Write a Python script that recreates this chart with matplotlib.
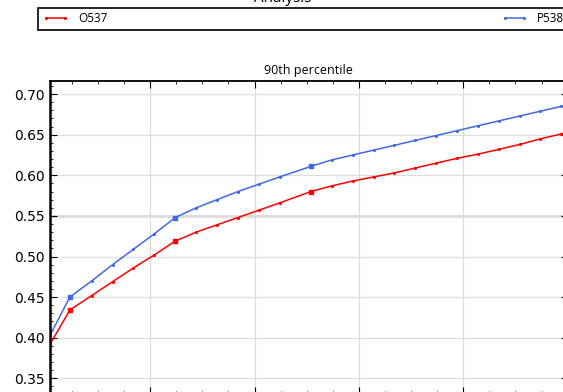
import matplotlib
matplotlib.use('Agg')
import matplotlib.pyplot as plt
from matplotlib.ticker import MultipleLocator

# data (x in plot units, one major tick = 1)
x = [0.04, 0.23, 0.44, 0.64, 0.84, 1.04, 1.24, 1.44, 1.64, 1.84, 2.04, 2.24, 2.54,
     2.74, 2.94, 3.14, 3.34, 3.54, 3.74, 3.94, 4.14, 4.34, 4.54, 4.74, 4.94, 5.0]
o537 = [0.392, 0.434, 0.452, 0.469, 0.486, 0.502, 0.519, 0.530, 0.539,
        0.548, 0.557, 0.566, 0.580, 0.587, 0.593, 0.598, 0.603, 0.609,
        0.615, 0.621, 0.626, 0.632, 0.638, 0.645, 0.651, 0.653]
p538 = [0.403, 0.450, 0.470, 0.490, 0.509, 0.528, 0.548, 0.560, 0.570,
        0.580, 0.589, 0.598, 0.611, 0.619, 0.625, 0.631, 0.637, 0.643,
        0.649, 0.655, 0.661, 0.667, 0.673, 0.679, 0.685, 0.687]
highlight = [1, 6, 12]
labels = ["O537", "P538"]
ref_level = 0.55

fig = plt.figure(figsize=(5.63, 3.92), dpi=100)
W, H = 563.0, 392.0
# axes deliberately runs past the bottom edge, as in the reference crop
ax = fig.add_axes([50 / W, 1 - 394 / H, (567.6 - 50) / W, (394 - 80.5) / H])

for ys, col, lab in [(o537, "#ff0000", labels[0]), (p538, "#4169e1", labels[1])]:
    ax.plot(x, ys, color=col, lw=1.1, marker='.', ms=2.5, label=lab)
    ax.plot([x[i] for i in highlight], [ys[i] for i in highlight],
            ls='none', marker='s', ms=3, color=col)

ax.axhline(ref_level, color='#d4d4d4', lw=1.8, zorder=0.5)
ax.set_xlim(0.04, 5.0)
ax.set_ylim(0.3307, 0.7168)
ax.xaxis.set_major_locator(MultipleLocator(1))
ax.xaxis.set_minor_locator(MultipleLocator(0.25))
ax.yaxis.set_major_locator(MultipleLocator(0.05))
ax.yaxis.set_minor_locator(MultipleLocator(0.01))
ax.tick_params(which='both', direction='in', top=True, right=True, labelbottom=False)
ax.tick_params(which='major', length=5, labelsize=10)
ax.tick_params(which='minor', length=2.5)
ax.grid(True, which='major', color='#dddddd', lw=0.9)
for s in ax.spines.values():
    s.set_linewidth(1.3)
ax.spines['left'].set_linewidth(1.8)
ax.set_title("90th percentile", fontsize=9, family=['Open Sans', 'DejaVu Sans'], pad=5)

fig.text(283 / W, 1 + 1.5 / H, "Analysis", ha='center', va='center', fontsize=11,
         family=['Open Sans', 'DejaVu Sans'])

leg = fig.legend(loc='lower left', bbox_to_anchor=(38 / W, 1 - 30 / H, 531 / W, 21 / H),
                 ncol=2, mode='expand', fancybox=False, framealpha=1, edgecolor='black',
                 borderaxespad=0, numpoints=2, handlelength=2.2,
                 prop={'family': ['Open Sans', 'DejaVu Sans'], 'size': 8.5})
leg.get_frame().set_linewidth(1.2)

fig.savefig("out.png", dpi=100)
